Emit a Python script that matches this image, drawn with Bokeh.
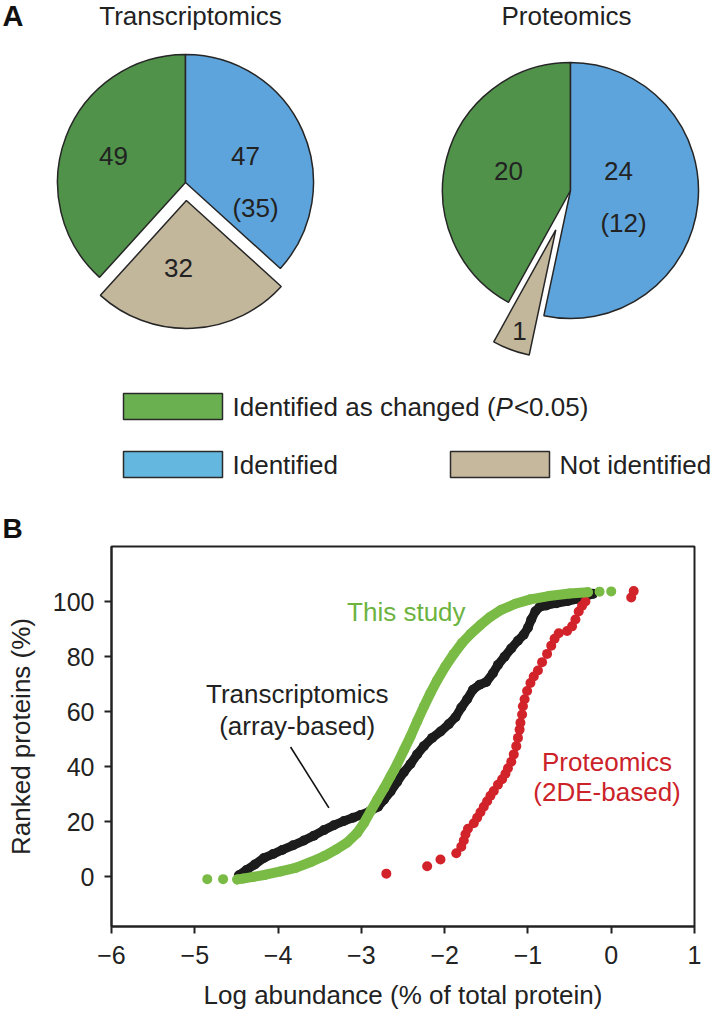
import math
from bokeh.plotting import figure
from bokeh.models import Range1d, FixedTicker
from bokeh.embed import file_html
from bokeh.resources import INLINE
from bokeh.core.properties import value

# ---------------- Panel A data ----------------
pie_titles = ["Transcriptomics", "Proteomics"]
legend_labels = ["Identified as changed", "Identified", "Not identified"]
# order: identified as changed, identified, not identified
transcriptomics_counts = [49, 47, 32]
transcriptomics_identified_bracket = 35
proteomics_counts = [20, 24, 1]
proteomics_identified_bracket = 12

# ---------------- Panel B data ----------------
this_study_x = [-4.85, -4.66, -4.49, -4.42, -4.30, -4.15, -3.97, -3.79, -3.60, -3.45,
                -3.30, -3.17, -3.05, -2.97, -2.89, -2.81, -2.73, -2.65, -2.57, -2.49,
                -2.41, -2.33, -2.25, -2.17, -2.09, -1.99, -1.89, -1.79, -1.69, -1.57,
                -1.45, -1.32, -1.15, -0.97, -0.75, -0.50, -0.28, -0.14, 0.00]
this_study_y = [-0.8, -0.8, -0.9, -0.6, 0.0, 0.8, 2.0, 3.3, 5.5, 7.5,
                10.0, 12.5, 16.0, 19.5, 23.8, 28.0, 32.1, 36.5, 41.0, 46.0,
                51.0, 56.5, 61.8, 66.8, 71.4, 76.5, 81.0, 85.0, 88.2, 91.5,
                94.5, 97.0, 99.2, 100.8, 102.0, 102.9, 103.4, 103.6, 103.7]

array_x = [-4.47, -4.38, -4.28, -4.17, -4.06, -3.95, -3.82, -3.69, -3.57, -3.45,
           -3.33, -3.21, -3.10, -3.01, -2.90, -2.80, -2.73, -2.65, -2.57, -2.49,
           -2.41, -2.33, -2.25, -2.15, -2.05, -1.95, -1.87, -1.80, -1.73, -1.66,
           -1.58, -1.50, -1.42, -1.36, -1.28, -1.20, -1.12, -1.05, -1.00, -0.96,
           -0.91, -0.86, -0.78, -0.66, -0.52, -0.40, -0.30, -0.22]
array_y = [0.6, 2.5, 4.5, 6.9, 8.3, 9.8, 11.5, 13.2, 15.0, 17.0,
           18.8, 20.3, 21.5, 22.5, 23.8, 25.5, 28.0, 31.0, 34.5, 38.0,
           41.0, 44.5, 47.5, 50.5, 52.8, 55.5, 58.0, 61.5, 64.5, 68.0,
           69.8, 70.8, 74.0, 77.0, 80.0, 83.0, 85.8, 88.0, 90.5, 93.5,
           96.5, 98.0, 98.6, 99.4, 100.2, 101.0, 102.0, 102.8]

twode_x = [-2.70, -2.21, -2.05, -1.86, -1.80, -1.77, -1.75, -1.72, -1.65, -1.61,
           -1.57, -1.53, -1.49, -1.45, -1.41, -1.36, -1.31, -1.27, -1.24, -1.20,
           -1.17, -1.14, -1.12, -1.10, -1.09, -1.07, -1.06, -1.04, -1.01, -0.97,
           -0.93, -0.88, -0.83, -0.77, -0.72, -0.68, -0.63, -0.53, -0.47, -0.43,
           -0.39, -0.35, -0.31, 0.24, 0.27]
twode_y = [1.2, 3.9, 6.3, 8.6, 11.0, 13.2, 15.5, 17.5, 19.5, 21.5,
           23.5, 25.5, 27.5, 29.5, 31.2, 33.5, 35.5, 37.5, 39.5, 41.8,
           44.5, 47.5, 50.5, 53.5, 56.0, 59.0, 62.0, 64.5, 67.5, 70.4,
           72.8, 75.0, 78.0, 81.0, 84.0, 86.5, 88.5, 89.3, 91.0, 93.5,
           96.4, 98.5, 100.0, 101.5, 103.8]

x_ticks = [-6, -5, -4, -3, -2, -1, 0, 1]
x_tick_labels = ["\u22126", "\u22125", "\u22124", "\u22123", "\u22122", "\u22121", "0", "1"]
y_ticks = [0, 20, 40, 60, 80, 100]

# ---------------- style ----------------
FONT = "Liberation Sans"
TXT = "#222222"
W = 712
HA = 545
HB = 1012 - HA
PIE_R = 128
pie_colors = ["#50924a", "#5ea4dc", "#c2b69b"]       # changed, identified, not identified
legend_colors = ["#6ab050", "#64b7de", "#c6b89d"]
GREEN = "#79bb45"
BLACK = "#1c1c1c"
RED = "#d2232a"

# ======================= Panel A =======================
pA = figure(width=W, height=HA, x_range=Range1d(0, W), y_range=Range1d(0, HA),
            output_backend="svg", toolbar_location=None, min_border=0,
            x_axis_location=None, y_axis_location=None, outline_line_color=None)
pA.grid.grid_line_color = None

pie_centers = [(185, 363), (570, 355)]
explode = [18, 42]
min_slice_deg = 17
title_y = 530
title_dx = [5, -4]
# label offsets from pie centre: changed, identified, identified-bracket, not identified
label_offsets = [[(-72, 27), (60, 27), (70, -25), (-7, -85)],
                 [(-62, 20), (48, 20), (53, -32), (-51, -140)]]

pie_data = [(transcriptomics_counts, transcriptomics_identified_bracket),
            (proteomics_counts, proteomics_identified_bracket)]

for k, ((counts, bracket), (cx, cy)) in enumerate(zip(pie_data, pie_centers)):
    total = sum(counts)
    g, b, t = [c / total * 360.0 for c in counts]
    if t < min_slice_deg:
        g -= (min_slice_deg - t)
        t = min_slice_deg
    g0, g1 = 90.0, 90.0 + g
    t0, t1 = g1, g1 + t
    b0, b1 = t1, 450.0
    mid = math.radians((t0 + t1) / 2)
    tx, ty = cx + explode[k] * math.cos(mid), cy + explode[k] * math.sin(mid)
    pA.wedge(x=[cx, cx, tx], y=[cy, cy, ty], radius=PIE_R,
             start_angle=[g0, b0, t0], end_angle=[g1, b1, t1],
             start_angle_units="deg", end_angle_units="deg",
             fill_color=pie_colors, line_color="#262626", line_width=1.5)
    offs = label_offsets[k]
    texts = [str(counts[0]), str(counts[1]), "(%d)" % bracket, str(counts[2])]
    pA.text(x=[cx + o[0] for o in offs], y=[cy + o[1] for o in offs], text=texts,
            text_font=value(FONT), text_font_size="26px", text_color=TXT,
            text_align="center", text_baseline="middle")
    pA.text(x=[cx + title_dx[k]], y=[title_y], text=[pie_titles[k]], text_font=value(FONT),
            text_font_size="26px", text_color=TXT, text_align="center",
            text_baseline="middle")

pA.text(x=[2], y=[530], text=["A"], text_font=value(FONT), text_font_size="29px",
        text_font_style="bold", text_color="#111111", text_align="left", text_baseline="middle")
pA.text(x=[2], y=[17], text=["B"], text_font=value(FONT), text_font_size="28px",
        text_font_style="bold", text_color="#111111", text_align="left", text_baseline="middle")

# legend
box_w, box_h = 99, 26
legend_pos = [(123, 126), (123, 68), (450, 68)]
pA.rect(x=[p[0] + box_w / 2 for p in legend_pos], y=[p[1] + box_h / 2 for p in legend_pos],
        width=box_w, height=box_h, fill_color=legend_colors, line_color="#2a2a2a", line_width=1.5)

ARIAL = {'I': .278, 'd': .556, 'e': .556, 'n': .556, 't': .278, 'i': .222, 'f': .278, ' ': .278,
         'a': .556, 's': .5, 'c': .5, 'h': .556, 'g': .556, '(': .333, ')': .333, 'P': .667,
         '<': .584, '0': .556, '.': .278, '5': .556}
LFS = 26


def tw(s):
    return sum(ARIAL.get(ch, .556) for ch in s) * LFS


x0 = legend_pos[0][0] + box_w + 10
yc0 = legend_pos[0][1] + box_h / 2
part1 = legend_labels[0] + " ("
pA.text(x=[x0], y=[yc0], text=[part1], text_font=value(FONT), text_font_size="26px",
        text_color=TXT, text_align="left", text_baseline="middle")
pA.text(x=[x0 + tw(part1)], y=[yc0], text=["P"], text_font=value(FONT), text_font_size="26px",
        text_font_style="italic", text_color=TXT, text_align="left", text_baseline="middle")
pA.text(x=[x0 + tw(part1) + tw("P") + 1], y=[yc0], text=["<0.05)"], text_font=value(FONT),
        text_font_size="26px", text_color=TXT, text_align="left", text_baseline="middle")
pA.text(x=[p[0] + box_w + 10 for p in legend_pos[1:]], y=[p[1] + box_h / 2 for p in legend_pos[1:]],
        text=legend_labels[1:], text_font=value(FONT), text_font_size="26px", text_color=TXT,
        text_align="left", text_baseline="middle")

# ======================= Panel B =======================
pB = figure(width=W, height=HB, x_range=Range1d(-6, 1), y_range=Range1d(-18, 120),
            output_backend="svg", toolbar_location=None,
            min_border_left=111, min_border_right=18, min_border_top=1, min_border_bottom=82)
pB.grid.grid_line_color = None
pB.outline_line_color = "#222222"
pB.outline_line_width = 2

pB.xaxis.ticker = FixedTicker(ticks=x_ticks)
pB.xaxis.major_label_overrides = {t: l for t, l in zip(x_ticks, x_tick_labels)}
pB.yaxis.ticker = FixedTicker(ticks=y_ticks)
for ax in (pB.xaxis[0], pB.yaxis[0]):
    ax.axis_line_width = 2
    ax.axis_line_color = "#222222"
    ax.major_tick_line_width = 2
    ax.major_tick_line_color = "#222222"
    ax.major_tick_out = 7
    ax.major_tick_in = 0
    ax.minor_tick_line_color = None
    ax.major_label_text_font = FONT
    ax.major_label_text_font_size = "25px"
    ax.major_label_text_color = TXT
    ax.axis_label_text_font = FONT
    ax.axis_label_text_font_size = "26px"
    ax.axis_label_text_font_style = "normal"
    ax.axis_label_text_color = TXT
pB.yaxis.major_label_standoff = 10
pB.xaxis.major_label_standoff = 12
pB.xaxis.axis_label = "Log abundance (% of total protein)"
pB.yaxis.axis_label = "Ranked proteins (%)"
pB.xaxis.axis_label_standoff = 13
pB.yaxis.axis_label_standoff = 14

# black (array-based transcriptomics)
pB.line(array_x, array_y, line_color=BLACK, line_width=9, line_join="round", line_cap="round")
pB.scatter(array_x, array_y, size=10, fill_color=BLACK, line_color=None)
# red (2DE proteomics)
pB.scatter(twode_x, twode_y, size=10, fill_color=RED, line_color=None)
# green (this study)
pB.line(this_study_x[2:-2], this_study_y[2:-2], line_color=GREEN, line_width=10,
        line_join="round", line_cap="round")
pB.scatter(this_study_x, this_study_y, size=10, fill_color=GREEN, line_color=None)

# leader line for transcriptomics label
pB.line([-3.85, -3.39], [47.2, 25.1], line_color="#111111", line_width=1.6)

ann = [(-3.77, 66.3, "Transcriptomics", TXT),
       (-3.77, 54.8, "(array-based)", TXT),
       (-2.46, 96.1, "This study", "#6db33f"),
       (-0.05, 41.9, "Proteomics", "#cc2229"),
       (-0.05, 31.0, "(2DE-based)", "#cc2229")]
pB.text(x=[a[0] for a in ann], y=[a[1] for a in ann], text=[a[2] for a in ann],
        text_color=[a[3] for a in ann], text_font=value(FONT), text_font_size="26px",
        text_align="center", text_baseline="middle")

open("out.html", "w").write(file_html([pA, pB], INLINE))
